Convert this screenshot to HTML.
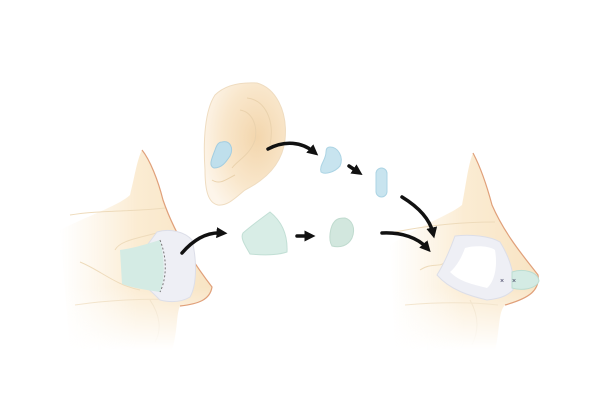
<!DOCTYPE html>
<html><head><meta charset="utf-8"><style>html,body{margin:0;padding:0;background:#fff;width:600px;height:401px;overflow:hidden}</style></head>
<body>
<svg width="600" height="401" viewBox="0 0 600 401" xmlns="http://www.w3.org/2000/svg">
<defs>
<linearGradient id="fL" x1="0" y1="0" x2="1" y2="0">
<stop offset="0" stop-color="#fcf0dc" stop-opacity="0"/><stop offset="0.5" stop-color="#fbecd3"/><stop offset="1" stop-color="#f8e4c4"/></linearGradient>
<linearGradient id="fade" x1="0" y1="0" x2="0" y2="1">
<stop offset="0" stop-color="#fff"/><stop offset="0.7" stop-color="#fff"/><stop offset="1" stop-color="#000"/></linearGradient>
<mask id="mL"><rect x="0" y="140" width="600" height="210" fill="url(#fade)"/></mask>
<radialGradient id="ear" cx="0.65" cy="0.45" r="0.7">
<stop offset="0" stop-color="#f3d6ad"/><stop offset="0.6" stop-color="#f9e7cc"/><stop offset="1" stop-color="#fdf5ea"/></radialGradient>
<marker id="ah" viewBox="0 0 10 10" refX="5" refY="5" markerWidth="11" markerHeight="11" markerUnits="userSpaceOnUse" orient="auto"><path d="M0,0 L10,5 L0,10 z" fill="#111"/></marker>
</defs>
<!-- left nose -->
<g mask="url(#mL)">
<path d="M60,230 C90,215 120,205 130,195 C135,175 137,160 142,150 C150,160 158,180 163,200 C175,235 195,265 212,287 C210,300 198,304 180,306 C176,315 178,330 172,350 L70,350 Z" fill="url(#fL)"/>
<path d="M70,215 C100,210 130,212 165,208 M80,262 C100,270 115,285 140,290 M75,305 C110,300 150,298 178,300 M150,300 C160,315 162,330 155,342 M115,250 C120,240 140,238 160,232" fill="none" stroke="#eedbbb" stroke-width="1"/>
</g>
<path d="M142,150 C150,160 158,180 163,200 C175,235 195,265 212,287 C210,300 198,304 180,306" fill="none" stroke="#e0a07a" stroke-width="1.2"/>
<path d="M157,232 C170,228 185,232 192,240 C197,260 197,285 190,297 C180,303 168,302 160,300 C150,290 140,280 125,275 Z" fill="#eeeff5" stroke="#dcdee8"/>
<path d="M120,250 C135,248 150,243 160,240 C165,260 165,280 160,292 C148,290 132,288 122,284 Z" fill="#d4ebe4"/>
<path d="M160,240 C168,260 166,280 160,292" fill="none" stroke="#777" stroke-dasharray="2,2"/>
<!-- ear -->
<path d="M257,83 C275,88 288,110 285,140 C282,165 265,180 245,190 C235,198 228,206 218,205 C208,203 205,190 205,170 C203,140 205,110 215,95 C225,85 240,82 257,83 Z" fill="url(#ear)" stroke="#efdcc0"/>
<path d="M247,98 C265,100 275,120 270,145 M240,110 C252,112 258,125 255,140 C250,155 238,160 232,168 M212,180 C220,185 225,180 235,175" fill="none" stroke="#ead2ad" stroke-width="1"/>
<path d="M222,142 C230,140 234,148 230,156 C226,162 222,168 214,168 C208,166 212,158 215,150 C217,144 219,142 222,142 Z" fill="#bfdfec" stroke="#a3cde0"/>
<!-- pieces -->
<path d="M330,147 C338,147 344,157 340,166 C335,172 325,175 321,172 C319,165 326,160 326,152 C326,148 328,147 330,147 Z" fill="#c8e4ef" stroke="#acd4e4"/>
<rect x="376" y="168" width="11" height="29" rx="5.5" fill="#c8e4ef" stroke="#acd4e4"/>
<path d="M270,212 C280,220 288,232 287,252 C275,256 260,255 250,254 C245,245 240,238 243,233 C252,225 262,218 270,212 Z" fill="#d8ede6" stroke="#c2dfd5"/>
<path d="M345,218 C352,220 356,228 352,238 C348,246 340,248 332,246 C328,240 330,226 335,221 C338,218 342,218 345,218 Z" fill="#d2e7de" stroke="#c0dbcf"/>
<!-- right nose -->
<g mask="url(#mL)">
<path d="M390,245 C420,225 450,215 462,205 C466,185 468,165 473,153 C482,170 488,190 492,205 C505,235 525,258 538,275 C540,290 530,298 505,305 C498,312 500,330 495,350 L395,350 Z" fill="url(#fL)"/>
<path d="M395,232 C430,225 465,222 495,222 M405,305 C440,302 470,302 498,305 M470,300 C480,318 478,332 472,345 M420,270 C432,262 440,268 445,262" fill="none" stroke="#eedbbb" stroke-width="1"/>
</g>
<path d="M473,153 C482,170 488,190 492,205 C505,235 525,258 538,275 C540,290 530,298 505,305" fill="none" stroke="#e0a07a" stroke-width="1.2"/>
<path d="M455,236 C470,234 490,236 500,242 C510,258 515,275 513,290 C505,298 495,299 487,300 C470,296 450,290 437,275 C445,262 450,250 455,236 Z" fill="#eeeff5" stroke="#dcdee8"/>
<path d="M465,248 C475,245 490,246 495,250 C498,268 494,282 487,288 C472,284 460,282 450,272 C458,265 462,256 465,248 Z" fill="#fff"/>
<path d="M512,272 C524,268 538,272 539,281 C536,289 522,291 512,288 Z" fill="#d4ebe4" stroke="#bcdcd1"/>
<text x="500" y="283" font-family="Liberation Sans, sans-serif" font-size="7" fill="#335">×</text>
<text x="512" y="283" font-family="Liberation Sans, sans-serif" font-size="7" fill="#335">×</text>
<!-- arrows -->
<g fill="none" stroke="#111" stroke-width="3.5" stroke-linecap="round">
<path d="M268,149 C285,140 302,142 314,152" marker-end="url(#ah)"/>
<path d="M182,253 C195,238 208,232 222,233" marker-end="url(#ah)"/>
<path d="M349,166 L358,172" marker-end="url(#ah)"/>
<path d="M297,236 L310,236" marker-end="url(#ah)"/>
<path d="M402,197 C420,208 430,220 433,233" marker-end="url(#ah)"/>
<path d="M382,233 C402,232 418,238 427,248" marker-end="url(#ah)"/>
</g>
</svg>
</body></html>
